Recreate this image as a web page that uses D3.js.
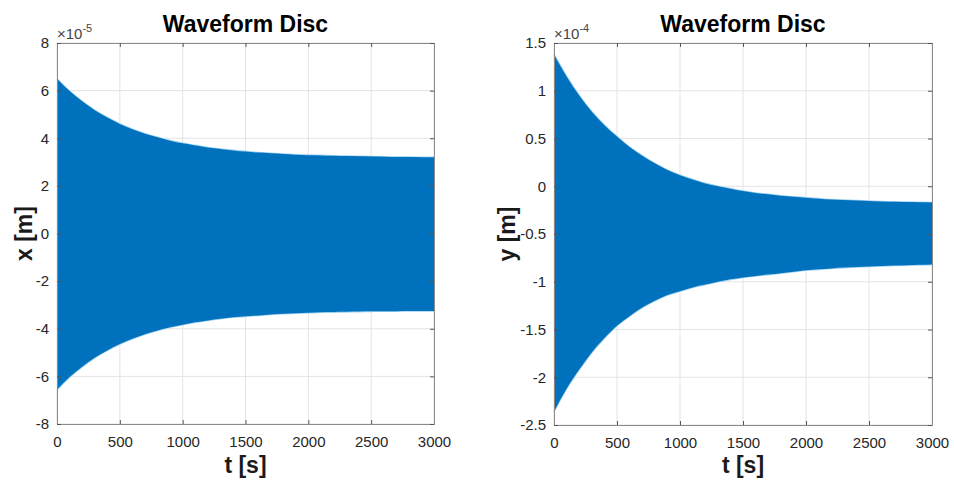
<!DOCTYPE html>
<html>
<head>
<meta charset="utf-8">
<script src="https://cdn.jsdelivr.net/npm/d3@7"></script>
<style>
  html, body { margin: 0; padding: 0; background: #fff; }
  svg { display: block; font-family: "Liberation Sans", Arial, sans-serif; }
</style>
</head>
<body>
<svg id="chart" width="954" height="485"></svg>
<script>
// Time samples of the envelope [s]
const timeS = [0,100,200,300,400,500,600,700,800,900,1000,1100,1200,1300,1400,1500,
               1600,1700,1800,1900,2000,2100,2200,2300,2400,2500,2600,2700,2800,2900,3000];

// Disc x displacement envelope, units of 1e-5 m
const xUpper = [6.50,5.98,5.55,5.18,4.87,4.60,4.38,4.19,4.04,3.90,3.79,3.70,3.61,3.55,3.49,3.44,
                3.40,3.37,3.34,3.31,3.29,3.28,3.26,3.25,3.24,3.23,3.22,3.21,3.21,3.20,3.20];
const xLower = [-6.56,-6.03,-5.60,-5.22,-4.91,-4.64,-4.42,-4.23,-4.07,-3.94,-3.83,-3.73,-3.65,-3.58,-3.52,-3.48,
                -3.44,-3.40,-3.37,-3.35,-3.33,-3.31,-3.30,-3.29,-3.28,-3.27,-3.26,-3.26,-3.25,-3.25,-3.25];

// Disc y displacement envelope, units of 1e-4 m
const yUpper = [1.38,1.15,0.95,0.78,0.64,0.52,0.41,0.32,0.24,0.17,0.115,0.07,0.03,0.00,-0.025,-0.05,
                -0.07,-0.085,-0.10,-0.11,-0.12,-0.13,-0.14,-0.145,-0.15,-0.155,-0.16,-0.163,-0.166,-0.168,-0.17];
const yLower = [-2.36,-2.12,-1.92,-1.74,-1.59,-1.46,-1.36,-1.27,-1.20,-1.14,-1.10,-1.06,-1.03,-1.00,-0.975,-0.955,
                -0.94,-0.925,-0.91,-0.895,-0.88,-0.87,-0.86,-0.852,-0.845,-0.84,-0.835,-0.83,-0.826,-0.823,-0.82];

// Tick values
const tTicks = [0,500,1000,1500,2000,2500,3000];
const xTicks = [-8,-6,-4,-2,0,2,4,6,8];
const yTicks = [-2.5,-2,-1.5,-1,-0.5,0,0.5,1,1.5];

const panels = [
  { title: "Waveform Disc", ylabel: "x [m]", exp: "-5", upper: xUpper, lower: xLower,
    ticks: xTicks, domain: [-8, 8], box: { x0: 57, x1: 434, y0: 43, y1: 424 }, labelX: 24 },
  { title: "Waveform Disc", ylabel: "y [m]", exp: "-4", upper: yUpper, lower: yLower,
    ticks: yTicks, domain: [-2.5, 1.5], box: { x0: 554, x1: 932, y0: 43, y1: 425 }, labelX: 507 }
];

const svg = d3.select("#chart");
const blue = "#0072BD";
const axisColor = "#262626";

panels.forEach(p => {
  const b = p.box;
  const xs = d3.scaleLinear().domain([0, 3000]).range([b.x0, b.x1]);
  const ys = d3.scaleLinear().domain(p.domain).range([b.y1, b.y0]);
  const g = svg.append("g");

  // grid
  g.append("g").selectAll("line").data(tTicks).join("line")
    .attr("x1", d => xs(d)).attr("x2", d => xs(d))
    .attr("y1", b.y0).attr("y2", b.y1)
    .attr("stroke", "#e3e3e3").attr("stroke-width", 1);
  g.append("g").selectAll("line").data(p.ticks).join("line")
    .attr("x1", b.x0).attr("x2", b.x1)
    .attr("y1", d => ys(d)).attr("y2", d => ys(d))
    .attr("stroke", "#e3e3e3").attr("stroke-width", 1);

  // envelope of the oscillating response
  const pts = timeS.map((t, i) => ({ t, hi: p.upper[i], lo: p.lower[i] }));
  const edgeHi = d3.line().x(d => xs(d.t)).y(d => ys(d.hi)).curve(d3.curveMonotoneX);
  const edgeLo = d3.line().x(d => xs(d.t)).y(d => ys(d.lo)).curve(d3.curveMonotoneX);
  g.append("path").datum(pts).attr("d", edgeHi)
    .attr("fill", "none").attr("stroke", "#9fd3f2").attr("stroke-width", 1.6);
  g.append("path").datum(pts).attr("d", edgeLo)
    .attr("fill", "none").attr("stroke", "#9fd3f2").attr("stroke-width", 1.6);
  const area = d3.area().x(d => xs(d.t)).y0(d => ys(d.lo)).y1(d => ys(d.hi)).curve(d3.curveMonotoneX);
  g.append("path").datum(pts).attr("d", area).attr("fill", blue);

  // axes (box with inward ticks)
  const axB = g.append("g").attr("transform", `translate(0,${b.y1})`)
    .call(d3.axisBottom(xs).tickValues(tTicks).tickSize(-4).tickPadding(9).tickFormat(d3.format("d")));
  const axT = g.append("g").attr("transform", `translate(0,${b.y0})`)
    .call(d3.axisTop(xs).tickValues(tTicks).tickSize(-4).tickFormat(""));
  const axL = g.append("g").attr("transform", `translate(${b.x0},0)`)
    .call(d3.axisLeft(ys).tickValues(p.ticks).tickSize(-4).tickPadding(8).tickFormat(d => String(d)));
  const axR = g.append("g").attr("transform", `translate(${b.x1},0)`)
    .call(d3.axisRight(ys).tickValues(p.ticks).tickSize(-4).tickFormat(""));
  [axB, axT, axL, axR].forEach(a => {
    a.select(".domain").attr("stroke", "#8a8a8a").attr("stroke-width", 1);
    a.selectAll(".tick line").attr("stroke", "#555");
    a.selectAll("text").attr("fill", axisColor).style("font-size", "15px")
      .style("font-family", "'Liberation Sans', Arial, sans-serif");
  });
  axB.selectAll("text").attr("dy", "0.9em");

  // exponent label
  const ex = g.append("text").attr("x", b.x0).attr("y", b.y0 - 4)
    .attr("fill", "#444").style("font-size", "15px");
  ex.append("tspan").text("×10");
  ex.append("tspan").attr("dy", -7).style("font-size", "11px").text(p.exp);

  // title
  g.append("text").attr("x", (b.x0 + b.x1) / 2).attr("y", 32)
    .attr("text-anchor", "middle").attr("fill", "#000")
    .style("font-size", "23px").style("font-weight", "bold").text(p.title);

  // axis labels
  g.append("text").attr("x", (b.x0 + b.x1) / 2).attr("y", 473)
    .attr("text-anchor", "middle").attr("fill", "#1a1a1a")
    .style("font-size", "23px").style("font-weight", "bold").text("t [s]");
  g.append("text")
    .attr("transform", `translate(${p.labelX},${(b.y0 + b.y1) / 2}) rotate(-90)`)
    .attr("text-anchor", "middle").attr("dy", "0.35em").attr("fill", "#1a1a1a")
    .style("font-size", "23px").style("font-weight", "bold").text(p.ylabel);
});
</script>
</body>
</html>
